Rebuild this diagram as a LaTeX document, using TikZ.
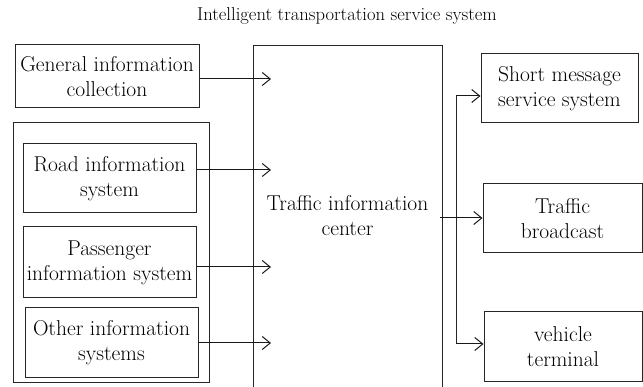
\documentclass[tikz,border=0pt]{standalone}
\usetikzlibrary{arrows.meta}
\begin{document}
\begin{tikzpicture}[x=1pt,y=-1pt,
  txt/.style={font=\fontsize{21.5}{25}\selectfont, text=black},
  box/.style={txt, draw=black!85, line width=1pt, align=center, inner sep=0pt},
  arr/.style={draw=black!90, line width=1pt, -{Straight Barb[length=8pt,width=13pt,line width=1pt]}},
  ln/.style={draw=black!85, line width=1pt}]
\clip (0,0) rectangle (643,387);
\node[font=\fontsize{18.6}{20}\selectfont, text=black] (title) at (347,16) {Intelligent transportation service system};
% left side
\node[box, minimum width=184pt, minimum height=63pt] (gen) at (107,76.5) {General information\\collection};
\node[draw=black!85, line width=1pt, minimum width=196pt, minimum height=260pt, inner sep=0pt] (grp) at (111,253) {};
\node[box, minimum width=173pt, minimum height=69pt] (road) at (109.5,178.5) {Road information\\system};
\node[box, minimum width=173pt, minimum height=71pt] (pass) at (109.5,262.5) {Passenger\\information system};
\node[box, minimum width=173pt, minimum height=70pt] (other) at (111.5,343) {Other information\\systems};
% centre
\node[txt, align=center, inner sep=0pt] (tic) at (347.5,216) {Traffic information\\center};
\coordinate (cTL) at (253,46);
\coordinate (cTR) at (442,46);
\coordinate (cBL) at (253,400);
\coordinate (cBR) at (442,400);
\draw[ln] (cBL) -- (cTL) -- (cTR) -- (cBR);
% right side
\node[box, minimum width=157pt, minimum height=69pt] (sms) at (559.5,88.5) {Short message\\service system};
\node[box, minimum width=159pt, minimum height=69pt] (bc) at (562.5,218.5) {Traffic\\broadcast};
\node[box, minimum width=158pt, minimum height=70pt] (veh) at (563,347) {vehicle\\terminal};
% arrows into centre
\coordinate (t1) at (271,79);
\coordinate (t2) at (271,170);
\coordinate (t3) at (271,267);
\coordinate (t4) at (271,343);
\draw[arr] (gen.east |- t1) -- (t1);
\draw[arr] (road.east |- t2) -- (t2);
\draw[arr] (pass.east |- t3) -- (t3);
\draw[arr] (other.east |- t4) -- (t4);
% bus on the right
\coordinate (bTop) at (456,96);
\coordinate (bBot) at (456,344);
\coordinate (bcS) at (440,218);
\draw[ln] (bTop) -- (bBot);
\draw[arr] (bTop) -- (sms.west |- bTop);
\draw[arr] (bcS) -- (bc.west |- bcS);
\draw[arr] (bBot) -- (veh.west |- bBot);
\end{tikzpicture}
\end{document}
